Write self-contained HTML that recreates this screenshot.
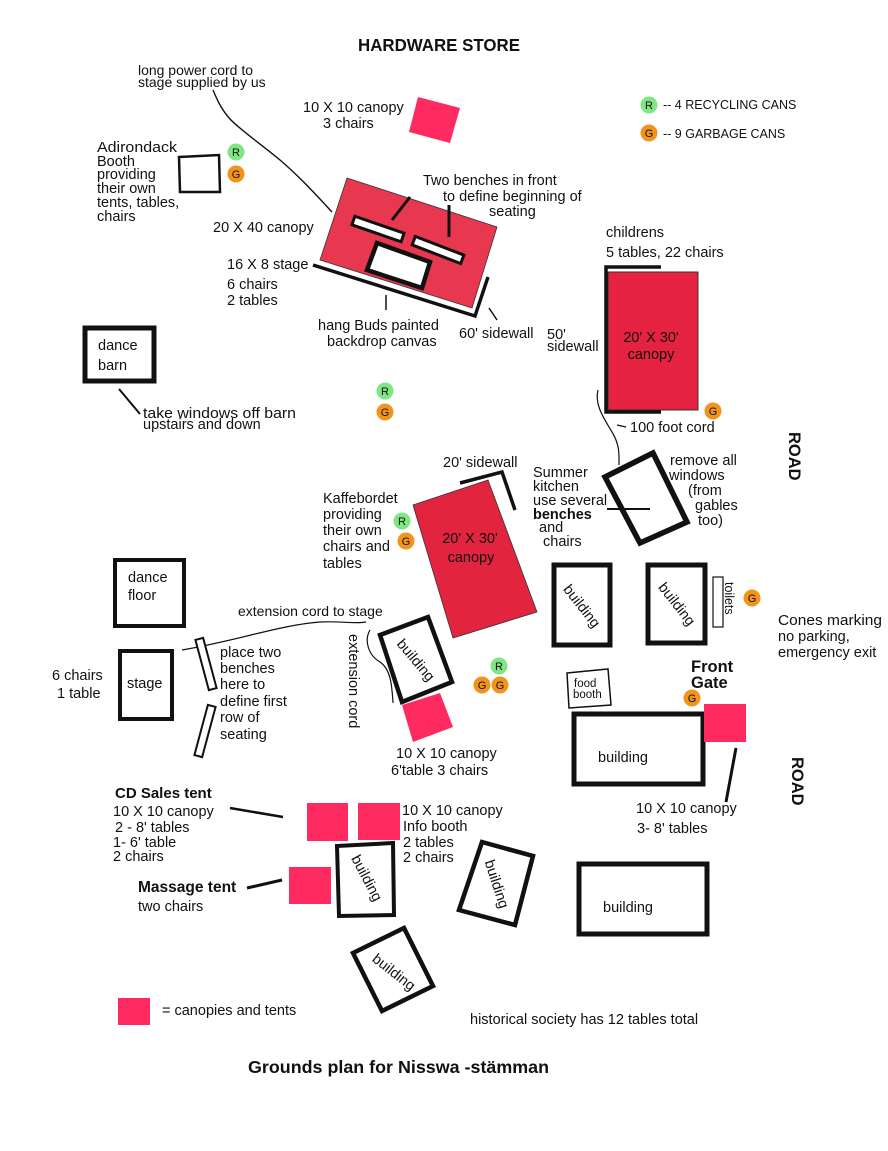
<!DOCTYPE html>
<html><head><meta charset="utf-8">
<style>
html,body{margin:0;padding:0;background:#fff;}
svg{display:block;}
text{font-family:"Liberation Sans",sans-serif;fill:#111;}
.m{font-size:14.5px;}
.a{font-size:14.5px;}
.b{font-weight:bold;}
.c{font-size:11px;text-anchor:middle;}
</style></head>
<body>
<svg width="888" height="1151" viewBox="0 0 888 1151" xmlns="http://www.w3.org/2000/svg">
<rect width="888" height="1151" fill="#fff"/>

<!-- Title -->
<text x="358" y="51" class="b" font-size="17.5" textLength="162" lengthAdjust="spacingAndGlyphs">HARDWARE STORE</text>

<!-- long power cord -->
<text x="138" y="75" font-size="14" textLength="115" lengthAdjust="spacingAndGlyphs">long power cord to</text>
<text x="138" y="87" font-size="14">stage supplied by us</text>
<path d="M213,90 C218,102 222,110 230,119 C238,128 262,145 280,160 C300,177 318,197 332,212" fill="none" stroke="#111" stroke-width="1.4"/>

<!-- top 10x10 canopy -->
<text x="303" y="112" class="m">10 X 10 canopy</text>
<text x="323" y="128" class="m">3 chairs</text>
<polygon points="418,97 460,108 450,143 409,132" fill="#ff2a5f"/>

<!-- legend cans -->
<circle cx="649" cy="105" r="8.5" fill="#7fe585"/><text x="649" y="109" class="c">R</text>
<text x="663" y="109" font-size="12.5">-- 4 RECYCLING CANS</text>
<circle cx="649" cy="133" r="8.5" fill="#f2941c"/><text x="649" y="137" class="c">G</text>
<text x="663" y="138" font-size="12.5">-- 9 GARBAGE CANS</text>

<!-- Adirondack -->
<text x="97" y="152" class="m" textLength="80" lengthAdjust="spacingAndGlyphs">Adirondack</text>
<text x="97" y="166" class="m">Booth</text>
<text x="97" y="179" class="m">providing</text>
<text x="97" y="193" class="m">their own</text>
<text x="97" y="207" class="m">tents, tables,</text>
<text x="97" y="221" class="m">chairs</text>
<polygon points="179,157 219,155 220,192 180,192" fill="#fff" stroke="#111" stroke-width="2.5"/>
<circle cx="236" cy="152" r="8.5" fill="#7fe585"/><text x="236" y="156" class="c">R</text>
<circle cx="236" cy="174" r="8.5" fill="#f2941c"/><text x="236" y="178" class="c">G</text>

<!-- 20x40 canopy -->
<text x="213" y="232" class="m">20 X 40 canopy</text>
<text x="227" y="269" class="m">16 X 8 stage</text>
<text x="227" y="289" class="m">6 chairs</text>
<text x="227" y="305" class="m">2 tables</text>
<polygon points="347,178 497,227 472,308 320,260" fill="#e8384f" stroke="#333" stroke-width="0.8"/>
<rect x="-26" y="-4.5" width="52" height="9" fill="#fff" stroke="#111" stroke-width="3" transform="translate(378,229) rotate(19)"/>
<rect x="-26" y="-4.5" width="52" height="9" fill="#fff" stroke="#111" stroke-width="3" transform="translate(438,250) rotate(21)"/>
<polygon points="377,243 430,262 422,288 367,270" fill="#fff" stroke="#111" stroke-width="4.5"/>
<line x1="392" y1="220" x2="410" y2="197" stroke="#111" stroke-width="3"/>
<line x1="449" y1="237" x2="449" y2="205" stroke="#111" stroke-width="3"/>
<polyline points="313,265 475,316 488,277" fill="none" stroke="#111" stroke-width="3.5"/>
<text x="423" y="185" class="m">Two benches in front</text>
<text x="443" y="201" class="m">to define beginning of</text>
<text x="489" y="216" class="m">seating</text>
<line x1="386" y1="295" x2="386" y2="310" stroke="#111" stroke-width="1.5"/>
<text x="318" y="330" class="m">hang  Buds painted</text>
<text x="327" y="346" class="m">backdrop canvas</text>
<line x1="489" y1="308" x2="497" y2="320" stroke="#111" stroke-width="1.5"/>
<text x="459" y="338" class="m">60' sidewall</text>

<!-- childrens canopy -->
<text x="606" y="237" class="m">childrens</text>
<text x="606" y="257" class="m">5 tables, 22 chairs</text>
<rect x="608" y="272" width="90" height="138" fill="#e5223f" stroke="#333" stroke-width="1"/>
<polyline points="661,267 606,267 606,412 661,412" fill="none" stroke="#111" stroke-width="3.5"/>
<text x="651" y="342" class="m" text-anchor="middle">20' X 30'</text>
<text x="651" y="359" class="m" text-anchor="middle">canopy</text>
<text x="547" y="339" class="m">50'</text>
<text x="547" y="351" class="m">sidewall</text>
<path d="M598,390 C594,405 605,420 612,432 C620,445 619,455 619,465" fill="none" stroke="#111" stroke-width="1.2"/>
<line x1="617" y1="425" x2="626" y2="427" stroke="#111" stroke-width="1.2"/>
<text x="630" y="432" class="m">100 foot cord</text>
<circle cx="713" cy="411" r="8.5" fill="#f2941c"/><text x="713" y="415" class="c">G</text>

<!-- ROAD labels -->
<text transform="translate(789,432) rotate(90)" class="b" font-size="16.5">ROAD</text>
<text transform="translate(792,757) rotate(90)" class="b" font-size="16.5">ROAD</text>

<!-- Summer kitchen -->
<polygon points="605,477 653,453 687,522 640,543" fill="#fff" stroke="#111" stroke-width="5.5"/>
<line x1="607" y1="509" x2="650" y2="509" stroke="#111" stroke-width="2"/>
<text x="533" y="477" class="m">Summer</text>
<text x="533" y="491" class="m">kitchen</text>
<text x="533" y="505" class="m">use several</text>
<text x="533" y="519" class="m b">benches</text>
<text x="539" y="532" class="m">and</text>
<text x="543" y="546" class="m">chairs</text>
<text x="670" y="465" class="m">remove all</text>
<text x="669" y="480" class="m">windows</text>
<text x="688" y="495" class="m">(from</text>
<text x="695" y="510" class="m">gables</text>
<text x="698" y="525" class="m">too)</text>

<!-- Kaffebordet -->
<text x="443" y="467" class="m">20' sidewall</text>
<polygon points="413,505 488,480 537,612 453,638" fill="#e2243f" stroke="#333" stroke-width="0.8"/>
<polyline points="460,483 502,472 515,510" fill="none" stroke="#111" stroke-width="3.5"/>
<text x="470" y="543" class="m" text-anchor="middle">20' X 30'</text>
<text x="471" y="562" class="m" text-anchor="middle">canopy</text>
<text x="323" y="503" class="m">Kaffebordet</text>
<text x="323" y="519" class="m">providing</text>
<text x="323" y="535" class="m">their own</text>
<text x="323" y="551" class="m">chairs and</text>
<text x="323" y="568" class="m">tables</text>
<circle cx="402" cy="521" r="8.5" fill="#7fe585"/><text x="402" y="525" class="c">R</text>
<circle cx="406" cy="541" r="8.5" fill="#f2941c"/><text x="406" y="545" class="c">G</text>

<!-- building near Kaffe -->
<polygon points="380,635 428,617 452,682 402,702" fill="#fff" stroke="#111" stroke-width="4.5"/>
<text transform="translate(416,660) rotate(50)" class="m" text-anchor="middle" dy="5">building</text>
<path d="M370,630 C364,640 368,655 380,662 C392,670 392,690 393,703" fill="none" stroke="#111" stroke-width="1.2"/>
<text transform="translate(349,634) rotate(90)" class="m">extension cord</text>
<polygon points="402,705 440,693 453,727 413,742" fill="#ff2a5f"/>
<text x="396" y="758" class="m">10 X 10 canopy</text>
<text x="391" y="775" class="m">6'table  3 chairs</text>
<circle cx="499" cy="666" r="8.5" fill="#7fe585"/><text x="499" y="670" class="c">R</text>
<circle cx="482" cy="685" r="8.5" fill="#f2941c"/><text x="482" y="689" class="c">G</text>
<circle cx="500" cy="685" r="8.5" fill="#f2941c"/><text x="500" y="689" class="c">G</text>

<!-- extension cord to stage -->
<text x="238" y="616" font-size="14">extension cord to stage</text>
<path d="M182,650 C240,640 280,625 320,622 C340,621 355,624 366,622" fill="none" stroke="#111" stroke-width="1.2"/>

<!-- dance barn -->
<rect x="85" y="328" width="69" height="53" fill="#fff" stroke="#111" stroke-width="5"/>
<text x="98" y="350" class="m">dance</text>
<text x="98" y="370" class="m">barn</text>
<line x1="119" y1="389" x2="140" y2="414" stroke="#111" stroke-width="2"/>
<text x="143" y="418" class="m" textLength="153" lengthAdjust="spacingAndGlyphs">take windows off barn</text>
<text x="143" y="429" class="m">upstairs and down</text>
<circle cx="385" cy="391" r="8.5" fill="#7fe585"/><text x="385" y="395" class="c">R</text>
<circle cx="385" cy="412" r="8.5" fill="#f2941c"/><text x="385" y="416" class="c">G</text>

<!-- dance floor & stage -->
<rect x="115" y="560" width="69" height="66" fill="#fff" stroke="#111" stroke-width="4"/>
<text x="128" y="582" class="m">dance</text>
<text x="128" y="600" class="m">floor</text>
<rect x="120" y="651" width="52" height="68" fill="#fff" stroke="#111" stroke-width="4"/>
<text x="127" y="688" class="m">stage</text>
<text x="52" y="680" class="a">6 chairs</text>
<text x="57" y="698" class="a">1 table</text>
<rect x="-4" y="-26" width="8" height="52" fill="#fff" stroke="#111" stroke-width="2" transform="translate(206,664) rotate(-15)"/>
<rect x="-4" y="-26" width="8" height="52" fill="#fff" stroke="#111" stroke-width="2" transform="translate(205,731) rotate(15)"/>
<text x="220" y="657" class="a">place two</text>
<text x="220" y="673" class="a">benches</text>
<text x="220" y="689" class="a">here to</text>
<text x="220" y="706" class="a">define first</text>
<text x="220" y="722" class="a">row of</text>
<text x="220" y="739" class="a">seating</text>

<!-- right buildings -->
<rect x="554" y="565" width="56" height="80" fill="#fff" stroke="#111" stroke-width="5"/>
<text transform="translate(582,606) rotate(52)" class="m" text-anchor="middle" dy="5">building</text>
<rect x="648" y="565" width="57" height="78" fill="#fff" stroke="#111" stroke-width="5"/>
<text transform="translate(677,604) rotate(52)" class="m" text-anchor="middle" dy="5">building</text>
<rect x="713" y="577" width="10" height="50" fill="#fff" stroke="#111" stroke-width="1.2"/>
<text transform="translate(725,582) rotate(90)" font-size="12.5">toilets</text>
<circle cx="752" cy="598" r="8.5" fill="#f2941c"/><text x="752" y="602" class="c">G</text>
<text x="778" y="625" class="m" textLength="104" lengthAdjust="spacingAndGlyphs">Cones marking</text>
<text x="778" y="641" class="m">no parking,</text>
<text x="778" y="657" class="m">emergency exit</text>
<text x="691" y="672" class="b" font-size="16.5">Front</text>
<text x="691" y="688" class="b" font-size="16.5">Gate</text>
<polygon points="567,673 608,669 611,705 569,708" fill="#fff" stroke="#111" stroke-width="1.5"/>
<text x="574" y="687" font-size="11.5">food</text>
<text x="573" y="698" font-size="11.5">booth</text>
<circle cx="692" cy="698" r="8.5" fill="#f2941c"/><text x="692" y="702" class="c">G</text>
<rect x="574" y="714" width="129" height="70" fill="#fff" stroke="#111" stroke-width="5"/>
<text x="598" y="762" class="m">building</text>
<rect x="704" y="704" width="42" height="38" fill="#ff2a5f"/>
<line x1="736" y1="748" x2="726" y2="802" stroke="#111" stroke-width="3"/>
<text x="636" y="813" class="m">10 X 10 canopy</text>
<text x="637" y="833" class="m">3- 8' tables</text>
<rect x="579" y="864" width="128" height="70" fill="#fff" stroke="#111" stroke-width="5"/>
<text x="603" y="912" class="m">building</text>

<!-- CD sales etc -->
<text x="115" y="798" class="b" font-size="15">CD Sales tent</text>
<text x="113" y="816" class="m">10 X 10 canopy</text>
<text x="115" y="832" class="m">2 - 8' tables</text>
<text x="113" y="847" class="m">1- 6' table</text>
<text x="113" y="861" class="m">2 chairs</text>
<line x1="230" y1="808" x2="283" y2="817" stroke="#111" stroke-width="2.5"/>
<rect x="307" y="803" width="41" height="38" fill="#ff2a5f"/>
<rect x="358" y="803" width="42" height="37" fill="#ff2a5f"/>
<text x="402" y="815" class="m">10 X 10 canopy</text>
<text x="403" y="831" class="m">Info booth</text>
<text x="403" y="847" class="m">2 tables</text>
<text x="403" y="862" class="m">2 chairs</text>
<text x="138" y="892" class="b" font-size="15.5">Massage tent</text>
<text x="138" y="911" class="m">two chairs</text>
<line x1="247" y1="888" x2="282" y2="880" stroke="#111" stroke-width="3"/>
<rect x="289" y="867" width="42" height="37" fill="#ff2a5f"/>
<polygon points="337,846 393,843 394,915 339,916" fill="#fff" stroke="#111" stroke-width="4"/>
<text transform="translate(367,878) rotate(62)" class="m" text-anchor="middle" dy="5">building</text>
<polygon points="482,842 533,856 515,925 459,910" fill="#fff" stroke="#111" stroke-width="4.5"/>
<text transform="translate(497,884) rotate(72)" class="m" text-anchor="middle" dy="5">building</text>
<polygon points="353,953 404,928 433,986 382,1011" fill="#fff" stroke="#111" stroke-width="4.5"/>
<text transform="translate(394,972) rotate(38)" class="m" text-anchor="middle" dy="5">building</text>

<!-- legend & footer -->
<rect x="118" y="998" width="32" height="27" fill="#ff2a5f"/>
<text x="162" y="1015" class="m">= canopies and tents</text>
<text x="470" y="1024" font-size="14.5">historical society has 12 tables total</text>
<text x="248" y="1073" class="b" font-size="17.5" textLength="301" lengthAdjust="spacingAndGlyphs">Grounds plan for Nisswa -stämman</text>
</svg>
</body></html>
